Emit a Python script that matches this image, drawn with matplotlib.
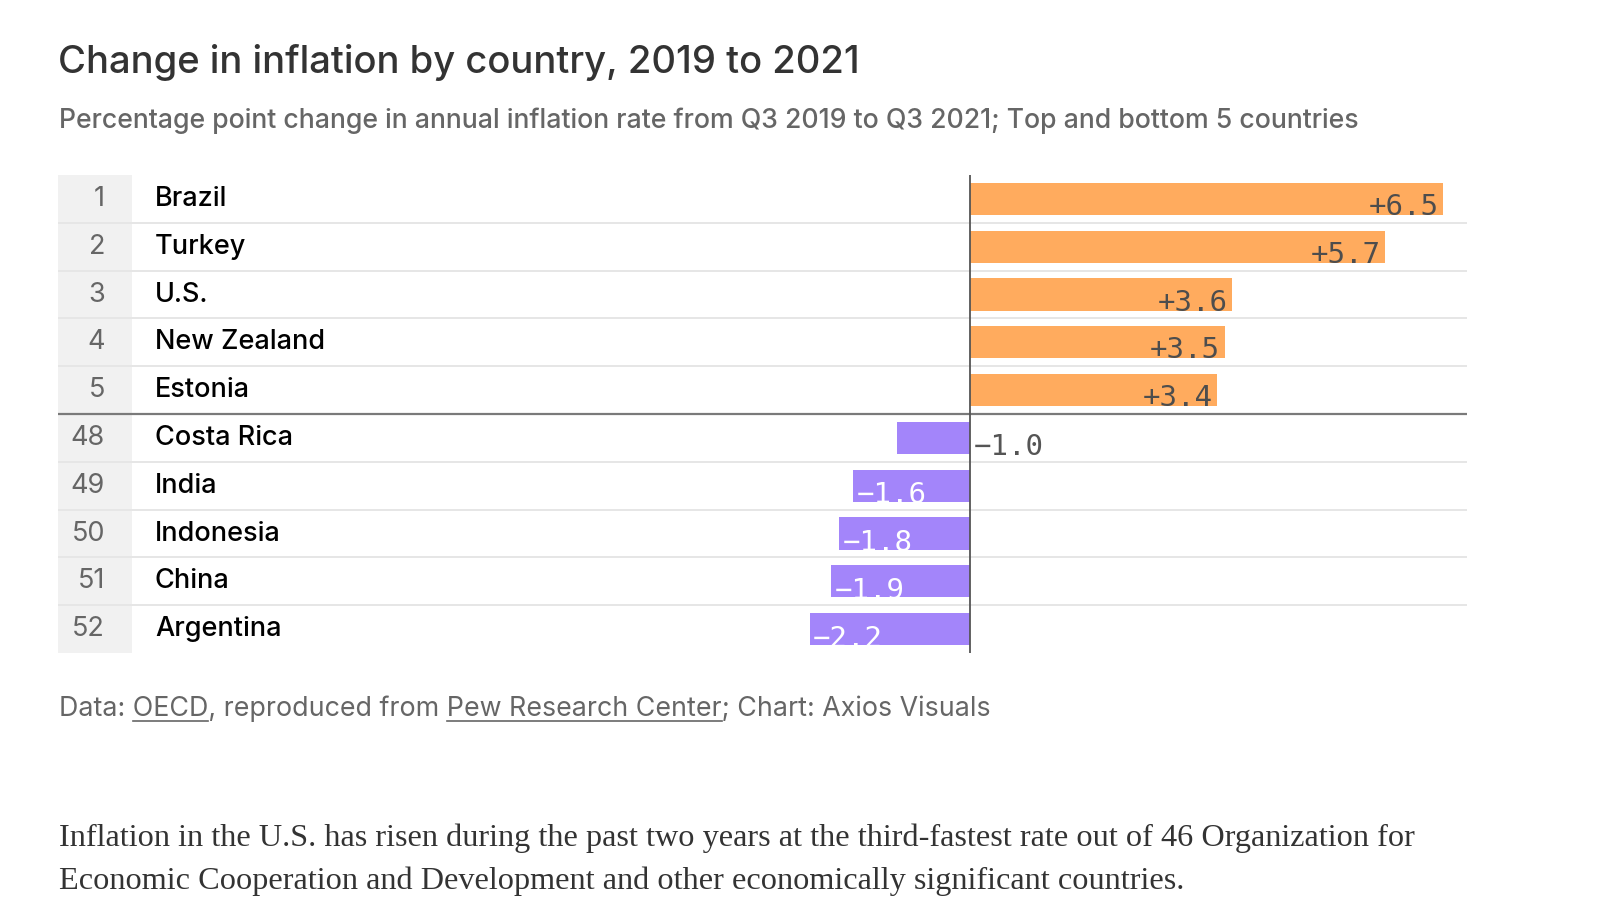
import matplotlib.pyplot as plt
from matplotlib.lines import Line2D
from matplotlib.patches import Rectangle

ranks = [1, 2, 3, 4, 5, 48, 49, 50, 51, 52]
countries = ['Brazil', 'Turkey', 'U.S.', 'New Zealand', 'Estonia',
             'Costa Rica', 'India', 'Indonesia', 'China', 'Argentina']
change = [6.5, 5.7, 3.6, 3.5, 3.4, -1.0, -1.6, -1.8, -1.9, -2.2]

title = 'Change in inflation by country, 2019 to 2021'
subtitle = ('Percentage point change in annual inflation rate from Q3 2019 '
            'to Q3 2021; Top and bottom 5 countries')
source = ('Data: OECD, reproduced from Pew Research Center; '
          'Chart: Axios Visuals')
links = ['OECD', 'Pew Research Center']
body = ['Inflation in the U.S. has risen during the past two years at the '
        'third-fastest rate out of 46 Organization for',
        'Economic Cooperation and Development and other economically '
        'significant countries.']

SANS = ['Inter', 'DejaVu Sans']
MONO = 'DejaVu Sans Mono'
SERIF = ['Liberation Serif', 'DejaVu Serif']

W, H = 1600, 919
fig = plt.figure(figsize=(W / 100, H / 100), dpi=100)


def fx(px):
    return px / W


def fy(py):
    return 1 - py / H


# table area in pixels
left, right, top, bottom = 58, 1467, 175, 653
zero_px = 969.7
px_unit = 72.8

ax = fig.add_axes([fx(left), fy(bottom), (right - left) / W, (bottom - top) / H])
ax.set_xlim(-(zero_px - left) / px_unit, (right - zero_px) / px_unit)
ax.set_ylim(len(countries) - 0.5, -0.5)
ax.axis('off')

trans = ax.get_yaxis_transform()
rank_w = (132 - left) / (right - left)
ax.add_patch(Rectangle((0, -0.5), rank_w, len(countries), transform=trans,
                       color='#f1f1f1', lw=0, zorder=0))

for i in range(1, len(countries)):
    if i == 5:
        ax.axhline(i - 0.5, color='#7a7a7a', lw=1.6, zorder=3)
    else:
        ax.axhline(i - 0.5, color='#e6e6e6', lw=1.4, zorder=1)

ypos = list(range(len(countries)))
colors = ['#ffab5e' if v > 0 else '#a385fa' for v in change]
ax.barh(ypos, change, height=0.67, color=colors, lw=0, zorder=2)
ax.axvline(0, color='#555555', lw=1.3, zorder=4)

for i, v in enumerate(ypos):
    val = change[i]
    lab = f'{val:+.1f}'.replace('-', '\u2212')
    base = v + 0.335
    if val > 0:
        ax.text(val - 0.06, base, lab, ha='right', va='baseline',
                color='#4d4d4d', family=MONO, size=21, zorder=5)
    elif val > -1.2:
        ax.text(0.05, base + 0.03, lab, ha='left', va='baseline',
                color='#555555', family=MONO, size=21, zorder=5)
    else:
        ax.text(val + 0.05, base + 0.03, lab, ha='left', va='baseline',
                color='white', family=MONO, size=21, zorder=5)

    ax.text((105 - left) / (right - left), v + 0.15, str(ranks[i]),
            transform=trans, ha='right', va='baseline', color='#666666',
            family=SANS, size=19.5)
    ax.text((155 - left) / (right - left), v + 0.15, countries[i],
            transform=trans, ha='left', va='baseline', color='#000000',
            family=SANS, size=19.5, weight='medium')

fig.text(fx(58), fy(73), title, ha='left', va='baseline', color='#333333',
         family=SANS, size=27.5, weight='medium')
fig.text(fx(59), fy(128), subtitle, ha='left', va='baseline', color='#666666',
         family=SANS, size=19.2, weight='medium')

src = fig.text(fx(59), fy(716), source, ha='left', va='baseline',
               color='#666666', family=SANS, size=19.3)

# underline the linked words
renderer = fig.canvas.get_renderer()
src_box = src.get_window_extent(renderer)
for word in links:
    prefix = source[:source.index(word) + len(word)]
    tmp = fig.text(fx(59), fy(716), prefix, family=SANS, size=19.3)
    end = tmp.get_window_extent(renderer).x1
    tmp.remove()
    tmp = fig.text(fx(59), fy(716), word, family=SANS, size=19.3)
    wlen = tmp.get_window_extent(renderer).width
    tmp.remove()
    yline = src_box.y0 + 1
    fig.add_artist(Line2D([(end - wlen) / W, end / W], [yline / H, yline / H],
                          color='#666666', lw=1.2))

for k, line in enumerate(body):
    fig.text(fx(59), fy(846 + 43 * k), line, ha='left', va='baseline',
             color='#333333', family=SERIF, size=23.2)

fig.savefig('out.png', dpi=100, facecolor='white')
